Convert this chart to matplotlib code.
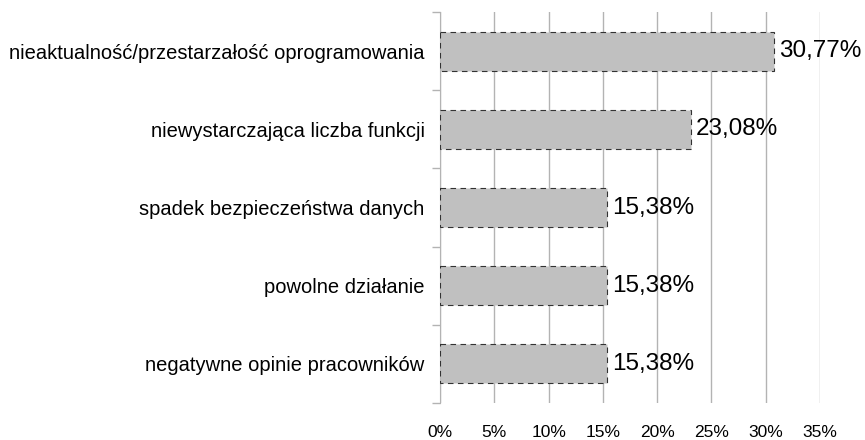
import matplotlib
matplotlib.use("Agg")
import matplotlib.pyplot as plt

# dane z wykresu (od góry do dołu)
kategorie = ["nieaktualność/przestarzałość oprogramowania",
             "niewystarczająca liczba funkcji",
             "spadek bezpieczeństwa danych",
             "powolne działanie",
             "negatywne opinie pracowników"]
wartosci = [30.77, 23.08, 15.38, 15.38, 15.38]
etykiety = ["30,77%", "23,08%", "15,38%", "15,38%", "15,38%"]
os_x = [0, 5, 10, 15, 20, 25, 30, 35]

plt.rcParams['font.family'] = ['Liberation Sans', 'DejaVu Sans']

fig = plt.figure(figsize=(8.65, 4.4), dpi=100)
ax = fig.add_axes([0.5087, 0.0841, 0.4393, 0.8886])

poz = list(range(len(kategorie)))
ax.barh(poz, wartosci, height=0.5, color="#c0c0c0", edgecolor="#333333",
        linewidth=0.8, linestyle=(0, (5, 4)), zorder=3)

for p, w, e in zip(poz, wartosci, etykiety):
    ax.text(w + 0.45, p, e, va="center", ha="left", fontsize=17.5, zorder=4)

ax.set_xlim(0, 35)
ax.set_ylim(-0.5, len(kategorie) - 0.5)
ax.invert_yaxis()

ax.set_xticks(os_x)
ax.set_xticklabels([f"{v}%" for v in os_x], fontsize=12.5)
ax.tick_params(axis="x", length=0, pad=16)

ax.set_yticks(poz)
ax.set_yticklabels(kategorie, fontsize=14.5)
ax.set_yticks([i - 0.5 for i in range(len(kategorie) + 1)], minor=True)
ax.tick_params(axis="y", which="major", length=0, pad=11)
ax.tick_params(axis="y", which="minor", length=6, color="#b3b3b3", width=1)

ax.grid(axis="x", color="#b3b3b3", linewidth=1, zorder=0)
for s in ["top", "right", "bottom"]:
    ax.spines[s].set_visible(False)
ax.spines["left"].set_color("#b3b3b3")

fig.savefig("out.png", dpi=100)
